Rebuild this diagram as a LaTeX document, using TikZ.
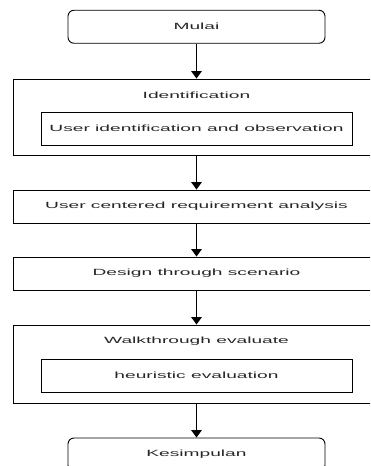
\documentclass[tikz,border=0pt]{standalone}
\usepackage{fontspec}
\setmainfont{Liberation Sans}
\newfontfamily\boxfont[FakeStretch=2.13]{Liberation Sans}
\usetikzlibrary{arrows.meta}
\begin{document}
\begin{tikzpicture}[x=1pt,y=-1pt,
  box/.style={draw=black, line width=0.9pt, rectangle, inner sep=0pt, anchor=center},
  term/.style={box, rounded corners=6pt, minimum width=257pt, minimum height=33pt},
  wide/.style={box, minimum width=367pt, minimum height=33pt},
  inner/.style={box, minimum width=311pt, minimum height=33pt},
  lbl/.style={font=\boxfont\fontsize{9}{10}\selectfont, text=black!85},
  flow/.style={draw=black, line width=1.5pt, -{Triangle[width=10.5pt,length=7.5pt]}}]
\useasboundingbox (0,0) rectangle (370,466);
\clip (0,0) rectangle (370,466);

% start / end terminals
\node[term, lbl] (start) at (196.5,26.75) {Mulai};
\node[term, lbl] (finish) at (196.5,454.5) {Kesimpulan};

% identification stage with its sub-step
\node[box, minimum width=367pt, minimum height=76pt] (ident) at (196.5,117) {};
\node[lbl] (identtitle) at (196.5,95) {Identification};
\node[inner, lbl] (identsub) at (196.5,128.5) {User identification and observation};

% single-step stages
\node[wide, lbl] (ucra) at (196.5,206.5) {User centered requirement analysis};
\node[wide, lbl] (design) at (196.5,273.5) {Design through scenario};

% evaluation stage with its sub-step
\node[box, minimum width=367pt, minimum height=78pt] (walk) at (196.5,364) {};
\node[lbl] (walktitle) at (196.5,341) {Walkthrough evaluate};
\node[inner, lbl] (walksub) at (196.5,375.5) {heuristic evaluation};

% flow connectors
\draw[flow] (start.south) -- (ident.north);
\draw[flow] (ident.south) -- (ucra.north);
\draw[flow] (ucra.south) -- (design.north);
\draw[flow] (design.south) -- (walk.north);
\draw[flow] (walk.south) -- (finish.north);
\end{tikzpicture}
\end{document}
